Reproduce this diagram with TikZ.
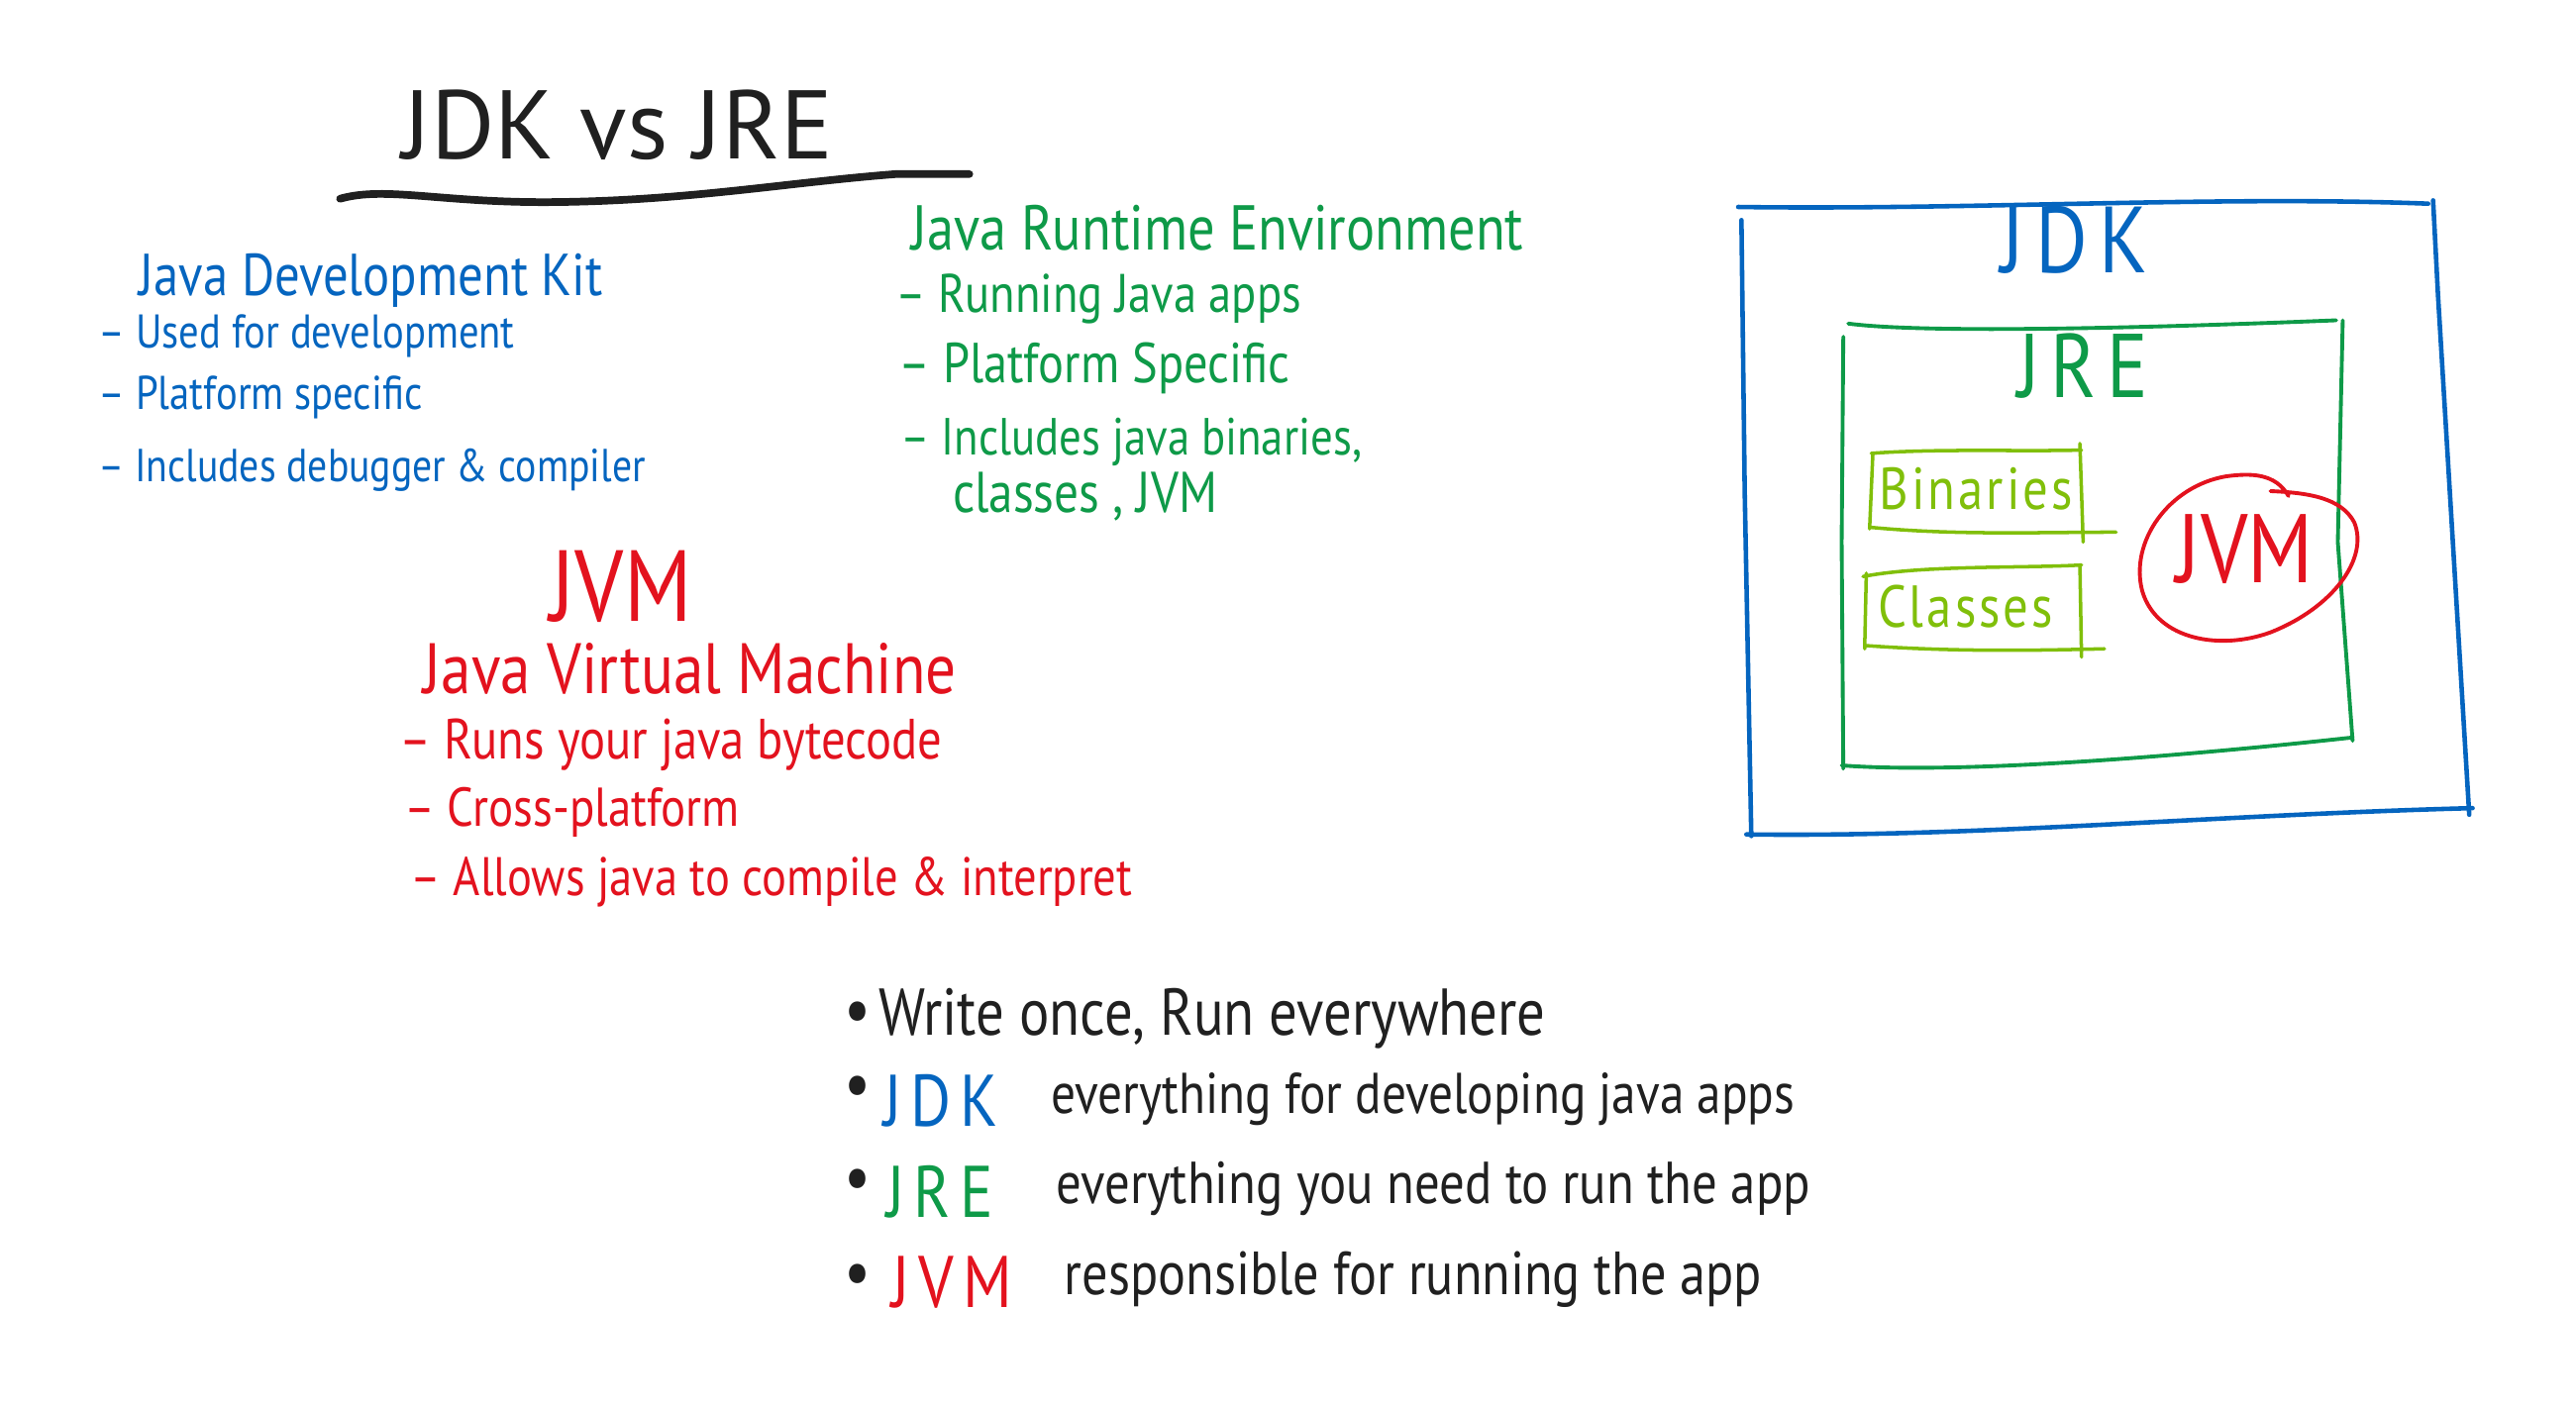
\documentclass[tikz,border=0pt]{standalone}
\usepackage{fontspec}
\setmainfont{PT Sans}
\newfontfamily\hw{PT Sans}[FakeStretch=0.85]
\newfontfamily\hwsp{PT Sans}[FakeStretch=0.85,LetterSpace=12]
\newfontfamily\hwsm{PT Sans}[FakeStretch=0.85,LetterSpace=5]
\definecolor{jblue}{HTML}{0565BF}
\definecolor{jgreen}{HTML}{0E9A48}
\definecolor{jlime}{HTML}{80BF0A}
\definecolor{jred}{HTML}{E3121E}
\definecolor{jink}{HTML}{202020}
\newcommand\fs[1]{\fontsize{#1}{#1}\selectfont}
\begin{document}
\begin{tikzpicture}[x=0.016588cm,y=-0.016588cm,
  every node/.style={inner sep=0pt,outer sep=0pt},
  txt/.style={anchor=base west},
  ink/.style={line cap=round,line join=round},
  bluebox/.style={ink,draw=jblue,line width=1.3pt},
  greenbox/.style={ink,draw=jgreen,line width=1.1pt},
  limebox/.style={ink,draw=jlime,line width=1pt},
  redring/.style={ink,draw=jred,line width=1.1pt}]
\fill[white] (0,0) rectangle (1568,857);
\useasboundingbox (0,0) rectangle (1568,857);

% title
\node[txt,text=jink,font=\fs{28}] (title) at (245,97) {JDK vs JRE};
\draw[ink,jink,line width=2.2pt] (207,121) .. controls (235,113) and (270,124) .. (340,123)
  .. controls (420,122) and (480,111) .. (545,106) -- (590,106);

% JDK description (blue)
\node[txt,text=jblue,font=\hw\fs{17}] (jdkname) at (85,180) {Java Development Kit};
\node[txt,text=jblue,font=\hw\fs{13.6}] (jdk1) at (60,212) {– Used for development};
\node[txt,text=jblue,font=\hw\fs{13.6}] (jdk2) at (60,249) {– Platform specific};
\node[txt,text=jblue,font=\hw\fs{13.3}] (jdk3) at (60,293) {– Includes debugger \& compiler};

% JRE description (green)
\node[txt,text=jgreen,font=\hw\fs{18.2}] (jrename) at (555,152) {Java Runtime Environment};
\node[txt,text=jgreen,font=\hw\fs{15.6}] (jre1) at (545,190) {– Running Java apps};
\node[txt,text=jgreen,font=\hw\fs{16.2}] (jre2) at (547,233) {– Platform Specific};
\node[txt,text=jgreen,font=\hw\fs{15}] (jre3) at (548,277) {– Includes java binaries,};
\node[txt,text=jgreen,font=\hw\fs{16.5}] (jre4) at (580,312) {classes , JVM};

% JVM description (red)
\node[txt,text=jred,font=\hw\fs{29}] (jvmbig) at (335,378) {JVM};
\node[txt,text=jred,font=\hw\fs{20.5}] (jvmname) at (258,422) {Java Virtual Machine};
\node[txt,text=jred,font=\hw\fs{16.3}] (jvm1) at (243,462) {– Runs your java bytecode};
\node[txt,text=jred,font=\hw\fs{15.7}] (jvm2) at (246,503) {– Cross-platform};
\node[txt,text=jred,font=\hw\fs{15.6}] (jvm3) at (250,545) {– Allows java to compile \& interpret};

% nested boxes diagram
\draw[bluebox] (1058,126) .. controls (1200,128) and (1350,119) .. (1478,124);
\draw[bluebox] (1481,122) -- (1484,180) -- (1503,496);
\draw[bluebox] (1505,492) .. controls (1350,496) and (1200,510) .. (1063,508);
\draw[bluebox] (1060,134) -- (1062,300) -- (1066,509);
\node[txt,text=jblue,font=\hwsp\fs{27}] (jdkbox) at (1218,166) {JDK};

\draw[greenbox] (1125,197) .. controls (1170,203) and (1300,200) .. (1422,195);
\draw[greenbox] (1122,205) -- (1121,330) -- (1122,468);
\draw[greenbox] (1121,466) .. controls (1200,472) and (1350,458) .. (1432,449);
\draw[greenbox] (1426,195) -- (1423,330) -- (1432,451);
\node[txt,text=jgreen,font=\hwsp\fs{26}] (jrebox) at (1228,242) {JRE};

\draw[limebox] (1139,276) .. controls (1180,273) and (1230,275) .. (1267,274);
\draw[limebox] (1140,276) -- (1138,322);
\draw[limebox] (1138,321) .. controls (1190,326) and (1240,324) .. (1288,324);
\draw[limebox] (1266,270) -- (1268,330);
\node[txt,text=jlime,font=\hwsm\fs{17}] (bin) at (1144,310) {Binaries};

\draw[limebox] (1134,351) .. controls (1170,344) and (1230,346) .. (1267,344);
\draw[limebox] (1136,349) -- (1135,395);
\draw[limebox] (1135,393) .. controls (1190,397) and (1240,396) .. (1281,395);
\draw[limebox] (1266,344) -- (1267,400);
\node[txt,text=jlime,font=\hwsm\fs{17}] (cls) at (1143,382) {Classes};

\node[txt,text=jred,font=\hw\fs{28}] (jvmin) at (1325,355) {JVM};
\draw[redring] (1393,302) .. controls (1385,288) and (1370,288) .. (1355,290)
  .. controls (1320,296) and (1296,330) .. (1304,360)
  .. controls (1313,390) and (1352,396) .. (1382,385)
  .. controls (1420,370) and (1442,340) .. (1433,318)
  .. controls (1425,303) and (1405,300) .. (1382,299);

% bottom summary
\node[txt,text=jink,font=\hw\fs{20}] (b1) at (514,629) {•};
\node[txt,text=jink,font=\hw\fs{19}] (s1) at (535,630) {Write once, Run everywhere};
\node[txt,text=jink,font=\hw\fs{20}] (b2) at (514,674) {•};
\node[txt,text=jblue,font=\hwsp\fs{21}] (l2) at (538,686) {JDK};
\node[txt,text=jink,font=\hw\fs{16.5}] (s2) at (640,678) {everything for developing java apps};
\node[txt,text=jink,font=\hw\fs{20}] (b3) at (514,731) {•};
\node[txt,text=jgreen,font=\hwsp\fs{21}] (l3) at (540,741) {JRE};
\node[txt,text=jink,font=\hw\fs{17}] (s3) at (643,733) {everything you need to run the app};
\node[txt,text=jink,font=\hw\fs{20}] (b4) at (514,789) {•};
\node[txt,text=jred,font=\hwsp\fs{21}] (l4) at (543,796) {JVM};
\node[txt,text=jink,font=\hw\fs{17.5}] (s4) at (648,788) {responsible for running the app};
\end{tikzpicture}
\end{document}
